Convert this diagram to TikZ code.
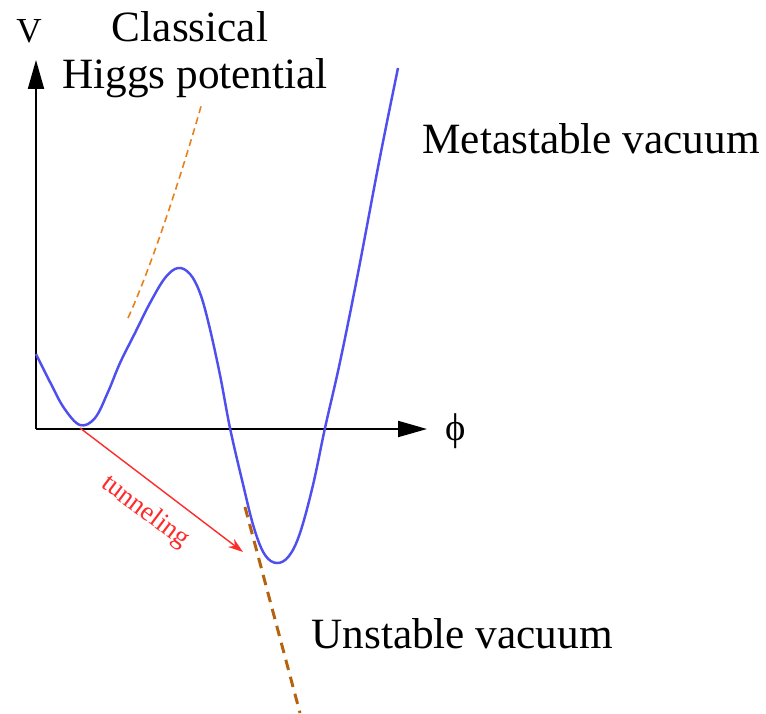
\documentclass[tikz,border=0pt]{standalone}
\usepackage{fontspec}
\setmainfont{Liberation Serif}
\usetikzlibrary{arrows.meta}
\definecolor{cblue}{HTML}{4F4FF0}
\definecolor{corange}{HTML}{E8801A}
\definecolor{cbrown}{HTML}{B5630F}
\definecolor{cred}{HTML}{FF2A2A}
\tikzset{
  every picture/.style={line width=1.1pt},
  axisline/.style={-{Triangle[length=0.58cm, width=0.32cm]}, draw=black, line width=1.1pt},
  pot/.style={draw=cblue, line width=1.4pt},
  classic/.style={draw=corange, line width=0.9pt, dash pattern=on 4pt off 2.5pt},
  unstab/.style={draw=cbrown, line width=1.7pt, dash pattern=on 6pt off 4pt},
  tunnel/.style={-{Stealth[length=0.3cm, width=0.2cm]}, draw=cred, line width=0.8pt},
  lbl/.style={font=\fontsize{24.6}{29}\selectfont, anchor=base, inner sep=0pt},
}
\begin{document}
\begin{tikzpicture}[x=0.02cm, y=-0.02cm]
  \useasboundingbox (0,0) rectangle (766,713);
  \coordinate (O) at (36,429);
  \coordinate (ytip) at (36,60);
  \coordinate (xtip) at (427,429);
  \coordinate (falsevac) at (80,428);
  \coordinate (truevac) at (243,552);
  \coordinate (ctop) at (202,103);
  \coordinate (cbot) at (128,318);
  \coordinate (utop) at (245,507);
  \coordinate (ubot) at (300,713);
  \draw[axisline] (O) -- (ytip);
  \draw[axisline] (O) -- (xtip);
  \draw[pot] plot[smooth, tension=0.6] coordinates {(36,354) (50,382) (64,408) (80,425) (95,418) (108,392)
    (120,363) (135,333) (150,303) (165,278) (178,268) (190,274) (200,293) (209,325) (220,375) (230,428)
    (242,480) (254,528) (265,555) (277,563) (289,556) (300,533) (313,485) (325,428) (340,362) (358,273)
    (380,157) (398,68)};
  \draw[classic] (cbot) .. controls (150,270) and (180,180) .. (ctop);
  \draw[unstab] (utop) -- (ubot);
  \draw[tunnel] (falsevac) -- (truevac);
  \node[font=\fontsize{20}{24}\selectfont, anchor=base, inner sep=0pt] (vlab) at (29,43) {V};
  \node[font=\fontsize{22}{26}\selectfont, inner sep=0pt] (philab) at (456,431) {\symbol{"03D5}};
  \node[lbl] (classical) at (190,42) {Classical};
  \node[lbl] (higgs) at (195,89) {Higgs potential};
  \node[lbl] (meta) at (591,153) {Metastable vacuum};
  \node[lbl] (unst) at (462,648) {Unstable vacuum};
  \node[font=\fontsize{15.5}{18}\selectfont, text=cred, rotate=-37, inner sep=0pt] (tlab) at (145,512) {tunneling};
\end{tikzpicture}
\end{document}
